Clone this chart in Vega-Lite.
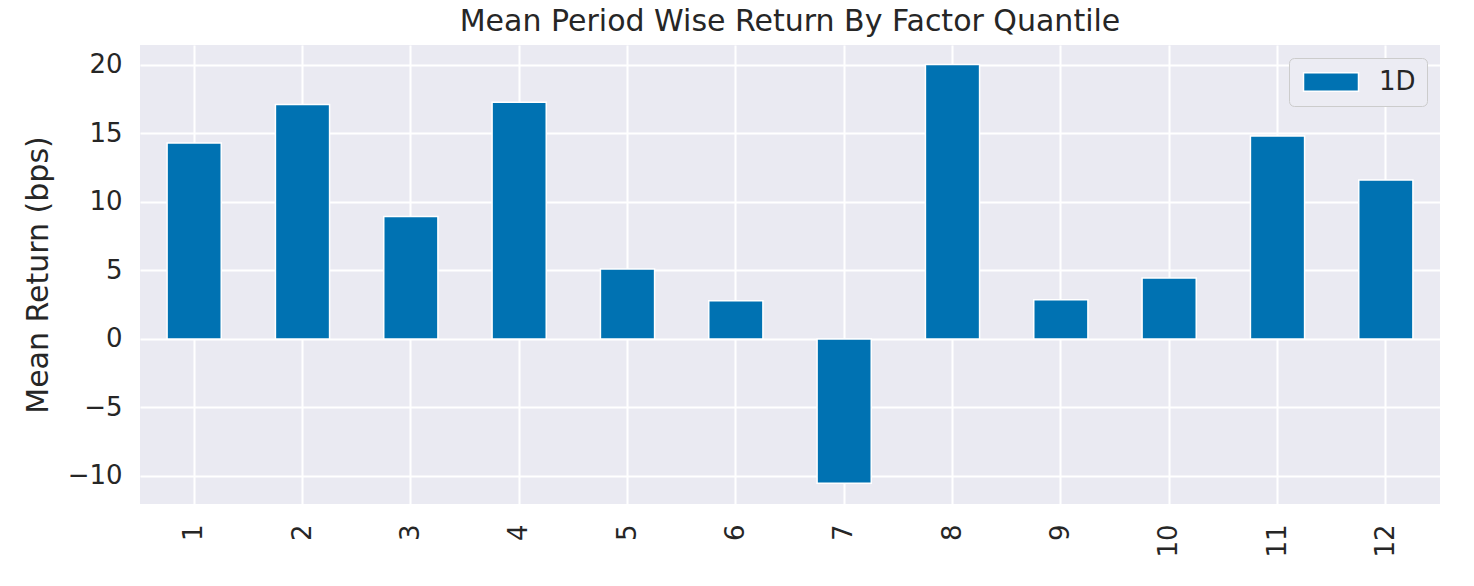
{
  "$schema": "https://vega.github.io/schema/vega-lite/v6.json",
  "autosize": "none",
  "width": 1300,
  "height": 459,
  "padding": {"left": 140, "top": 45, "right": 34, "bottom": 82},
  "background": "white",
  "title": {
    "text": "Mean Period Wise Return By Factor Quantile",
    "font": "DejaVu Sans",
    "fontSize": 30,
    "fontWeight": "normal",
    "color": "#262626",
    "anchor": "middle",
    "offset": 8
  },
  "config": {
    "view": {"fill": "#EAEAF2", "stroke": null},
    "font": "DejaVu Sans"
  },
  "data": {
    "values": [
      {"quantile": 1, "period": "1D", "ret": 14.3},
      {"quantile": 2, "period": "1D", "ret": 17.1},
      {"quantile": 3, "period": "1D", "ret": 8.93},
      {"quantile": 4, "period": "1D", "ret": 17.27},
      {"quantile": 5, "period": "1D", "ret": 5.1},
      {"quantile": 6, "period": "1D", "ret": 2.78},
      {"quantile": 7, "period": "1D", "ret": -10.53},
      {"quantile": 8, "period": "1D", "ret": 20.02},
      {"quantile": 9, "period": "1D", "ret": 2.85},
      {"quantile": 10, "period": "1D", "ret": 4.44},
      {"quantile": 11, "period": "1D", "ret": 14.8},
      {"quantile": 12, "period": "1D", "ret": 11.6}
    ]
  },
  "mark": {"type": "bar", "stroke": "white", "strokeWidth": 1.5},
  "encoding": {
    "x": {
      "field": "quantile",
      "type": "ordinal",
      "sort": null,
      "scale": {"paddingInner": 0.5, "paddingOuter": 0.25},
      "axis": {
        "title": null,
        "labelAngle": -90,
        "labelFontSize": 26,
        "labelColor": "#262626",
        "labelPadding": 20,
        "ticks": false,
        "domain": false,
        "grid": true,
        "gridColor": "white",
        "gridWidth": 2,
        "zindex": 0
      }
    },
    "y": {
      "field": "ret",
      "type": "quantitative",
      "scale": {"domain": [-12.05, 21.45], "nice": false, "zero": false},
      "axis": {
        "title": "Mean Return (bps)",
        "titleFontSize": 30,
        "titleFontWeight": "normal",
        "titleColor": "#262626",
        "titlePadding": 14,
        "values": [-10, -5, 0, 5, 10, 15, 20],
        "labelExpr": "replace(datum.label, '-', '\u2212')",
        "labelFontSize": 26,
        "labelColor": "#262626",
        "labelPadding": 18,
        "ticks": false,
        "domain": false,
        "grid": true,
        "gridColor": "white",
        "gridWidth": 2,
        "zindex": 0
      }
    },
    "color": {
      "field": "period",
      "type": "nominal",
      "scale": {"range": ["#0072B2"]},
      "legend": {
        "title": null,
        "orient": "top-right",
        "offset": 13,
        "padding": 11,
        "fillColor": "#ECECF3",
        "strokeColor": "#CCCCCC",
        "cornerRadius": 5,
        "symbolType": "M-3,-1H3V1H-3Z",
        "symbolSize": 336,
        "symbolOffset": 18,
        "symbolStrokeColor": "white",
        "symbolStrokeWidth": 1.5,
        "symbolOpacity": 1,
        "labelFontSize": 26,
        "labelColor": "#262626",
        "labelOffset": 35
      }
    }
  }
}
